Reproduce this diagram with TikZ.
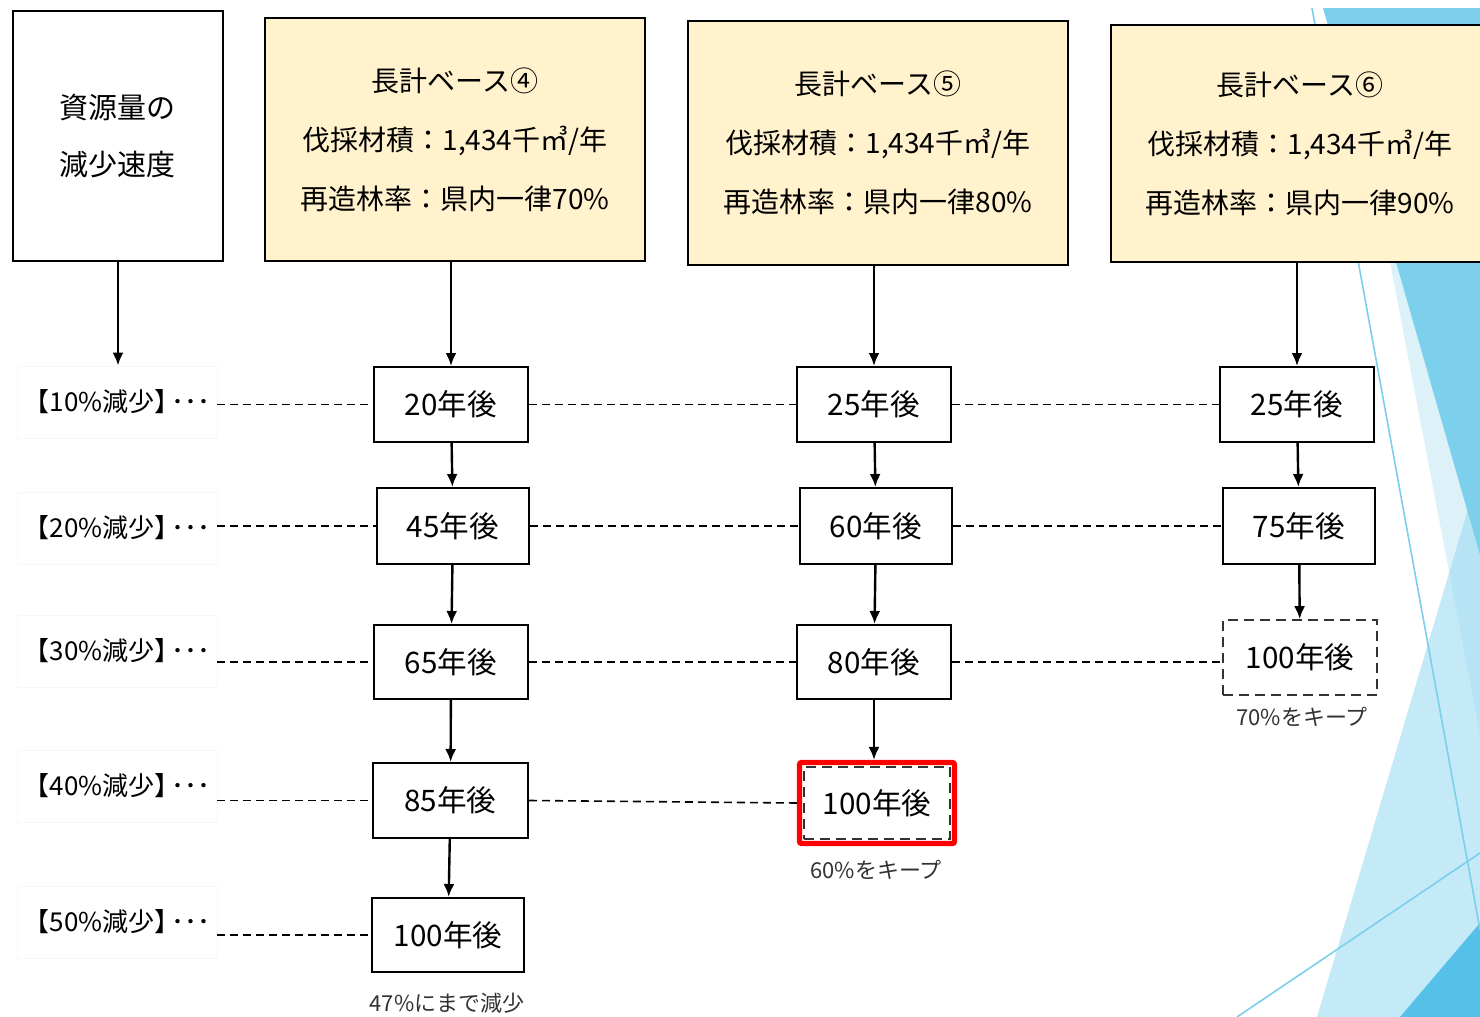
\documentclass[tikz,border=0pt]{standalone}
\usepackage{fontspec}
\setmainfont{Noto Sans CJK JP}
\usetikzlibrary{arrows.meta,fit}
\definecolor{hdrfill}{HTML}{FFF2CC}
\definecolor{facetA}{HTML}{7DD0EC}
\definecolor{facetB}{HTML}{C4EAF7}
\definecolor{facetS}{HTML}{9ED9F0}
\definecolor{facetD}{HTML}{55C1E9}
\definecolor{keepred}{HTML}{FF0000}
\begin{document}
\begin{tikzpicture}[x=0.5pt,y=-0.5pt,
  yearbox/.style={draw, line width=1pt, fill=white, minimum width=77pt,
    minimum height=37.5pt, inner sep=0pt, font=\fontsize{14.8}{16}\selectfont},
  dashbox/.style={yearbox, draw=black!80, line width=0.9pt, dash pattern=on 5pt off 3pt},
  hdrbox/.style={draw, line width=1pt, fill=hdrfill, minimum width=190pt,
    minimum height=121.5pt, inner sep=0pt, align=center,
    font=\fontsize{14}{29.5}\selectfont},
  titlebox/.style={draw, line width=1pt, fill=white, minimum width=105pt,
    minimum height=125pt, inner sep=0pt, align=center,
    font=\fontsize{14.5}{28.5}\selectfont},
  rowlabel/.style={draw=black!3, minimum width=100pt, minimum height=36pt,
    inner sep=0pt, font=\fontsize{13}{15}\selectfont},
  flow/.style={-{Latex[length=6.5pt,width=5.5pt]}, line width=1.2pt},
  level/.style={line width=0.8pt, dash pattern=on 4pt off 2.5pt},
  note/.style={inner sep=0pt, font=\fontsize{11}{13}\selectfont, text=black!80},
  facetline/.style={draw=facetA, line width=0.8pt}
]
\useasboundingbox (0,0) rectangle (1480,1017);
\fill[white] (0,0) rectangle (1480,1017);

% facet background at the right edge
\begin{scope}
  \clip (0,0) rectangle (1480,1017);
  \fill[facetB] (1480,469) -- (1317,1017) -- (1480,1017) -- cycle;
  \fill[facetS, fill opacity=0.35] (1379,204) -- (1480,555) -- (1480,734) -- cycle;
  \fill[facetA] (1323,8) -- (1480,8) -- (1480,555) -- cycle;
  \fill[facetD] (1400,1017) -- (1480,923) -- (1480,1017) -- cycle;
  \draw[facetline] (1312,8) -- (1480,930);
  \draw[facetline] (1237,1017) -- (1480,853);
\end{scope}

% headings
\node[titlebox] (L) at (118,136) {資源量の\\減少速度};
\node[hdrbox] (h4) at (455,139.5) {長計ベース④\\伐採材積：1,434千㎥/年\\再造林率：県内一律70\%};
\node[hdrbox, minimum height=122pt] (h5) at (878,143) {長計ベース⑤\\伐採材積：1,434千㎥/年\\再造林率：県内一律80\%};
\node[hdrbox, minimum width=189pt, minimum height=118.5pt] (h6) at (1300,143.5) {長計ベース⑥\\伐採材積：1,434千㎥/年\\再造林率：県内一律90\%};

% level labels
\newcommand\lvl[1]{【#1\%減少】\kern-0.35em･･･}
\node[rowlabel] (r1) at (117,402) {\lvl{10}};
\node[rowlabel] (r2) at (117,528) {\lvl{20}};
\node[rowlabel] (r3) at (117,651) {\lvl{30}};
\node[rowlabel] (r4) at (117,786) {\lvl{40}};
\node[rowlabel] (r5) at (117,922) {\lvl{50}};

% column 4
\node[yearbox] (a1) at (451,404.5) {20年後};
\node[yearbox, minimum width=76pt, minimum height=38pt] (a2) at (453,526) {45年後};
\node[yearbox, minimum height=37pt] (a3) at (451,662) {65年後};
\node[yearbox, minimum width=77.5pt] (a4) at (450.5,800.5) {85年後};
\node[yearbox, minimum width=76pt, minimum height=37pt] (a5) at (448,935) {100年後};
\node[note] (n4) at (447,1003) {47\%にまで減少};

% column 5
\node[yearbox] (b1) at (874,404.5) {25年後};
\node[yearbox, minimum width=76pt, minimum height=38pt] (b2) at (876,526) {60年後};
\node[yearbox, minimum height=37pt] (b3) at (874,662) {80年後};
\node[dashbox, minimum width=73pt, minimum height=36pt] (b4) at (877,803) {100年後};
\node[fit=(b4), inner sep=1.8pt, draw=keepred, line width=2.6pt, rounded corners=1pt] (b4r) {};
\node[note] (n5) at (876,870) {60\%をキープ};

% column 6
\node[yearbox] (c1) at (1297,404.5) {25年後};
\node[yearbox, minimum width=76pt, minimum height=38pt] (c2) at (1299,526) {75年後};
\node[dashbox] (c3) at (1300,657.5) {100年後};
\node[note] (n6) at (1302,717) {70\%をキープ};

% flow arrows
\draw[flow] (L.south) -- (L.south |- r1.north);
\draw[flow] (a1.north |- h4.south) -- (a1.north);
\draw[flow] (a1) -- (a2);
\draw[flow] (a2) -- (a3);
\draw[flow] (a3) -- (a4);
\draw[flow] (a4) -- (a5);
\draw[flow] (b1.north |- h5.south) -- (b1.north);
\draw[flow] (b1) -- (b2);
\draw[flow] (b2) -- (b3);
\draw[flow] (b3.south) -- (b3.south |- b4r.north);
\draw[flow] (c1.north |- h6.south) -- (c1.north);
\draw[flow] (c1) -- (c2);
\draw[flow] (c2) -- (c3);

% dashed level guides
\draw[level] (r1.east |- a1.west) -- (a1.west);
\draw[level] (a1.east) -- (b1.west);
\draw[level] (b1.east) -- (c1.west);
\draw[level] (r2.east |- a2.west) -- (a2.west);
\draw[level] (a2.east) -- (b2.west);
\draw[level] (b2.east) -- (c2.west);
\draw[level] (r3.east |- a3.west) -- (a3.west);
\draw[level] (a3.east) -- (b3.west);
\draw[level] (b3.east) -- (b3.east -| c3.west);
\draw[level] (r4.east |- a4.west) -- (a4.west);
\draw[level] (a4.east) -- (b4r.west);
\draw[level] (r5.east |- a5.west) -- (a5.west);
\end{tikzpicture}
\end{document}
